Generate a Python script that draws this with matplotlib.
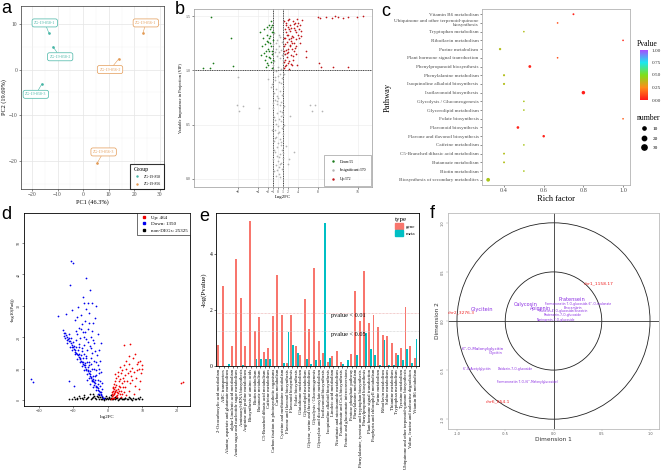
import numpy as np
import matplotlib
matplotlib.use("Agg")
import matplotlib.pyplot as plt
from matplotlib.patches import Circle, Patch
from matplotlib.lines import Line2D
from matplotlib.colors import LinearSegmentedColormap
from matplotlib.cm import ScalarMappable
from matplotlib.ticker import MultipleLocator

plt.rcParams['font.family'] = ['Liberation Serif', 'DejaVu Serif']

# ── panel a: PCA ─────────────────────────────────────────────────────────────
pca_names_858 = ["ZG-19-858-1", "ZG-19-858-2", "ZG-19-858-3"]
pca_x_858 = [-13.4, -11.8, -16.1]
pca_y_858 = [8.0, 5.0, -3.1]
pca_lab_x_858 = [-15.0, -9.0, -18.5]
pca_lab_y_858 = [10.2, 2.8, -5.4]
pca_names_856 = ["ZG-19-856-1", "ZG-19-856-2", "ZG-19-856-3"]
pca_x_856 = [23.4, 14.0, 5.4]
pca_y_856 = [8.0, 2.4, -20.5]
pca_lab_x_856 = [24.5, 10.5, 8.0]
pca_lab_y_856 = [10.2, 0.0, -18.0]

# ── panel b: VIP vs log2FC ───────────────────────────────────────────────────
vip_up = [(1.1,1.02),(1.2,1.08),(1.3,1.15),(1.2,1.22),(1.4,1.30),(1.3,1.38),(1.5,1.44),(1.6,1.05),
          (1.7,1.12),(1.6,1.19),(1.8,1.26),(1.7,1.33),(1.9,1.40),(2.0,1.46),(2.1,1.01),(2.2,1.09),
          (2.0,1.17),(2.3,1.23),(2.2,1.29),(2.4,1.36),(2.3,1.42),(2.5,1.06),(2.6,1.14),(2.7,1.20),
          (2.5,1.27),(2.8,1.32),(2.6,1.39),(2.9,1.45),(3.0,1.10),(3.1,1.18),(3.2,1.25),(3.0,1.31),
          (3.3,1.37),(3.1,1.43),(3.4,1.21),(3.5,1.29),(3.6,1.35),(3.7,1.41),(3.8,1.47),(4.0,1.44),
          (4.2,1.38),(4.1,1.30),(4.3,1.25),(1.4,1.10),(1.9,1.20),(2.7,1.05),(3.5,1.15),(4.4,1.42),
          (1.5,1.35),(2.1,1.38),(2.8,1.25),(1.1,1.30),(1.2,1.45),(3.8,1.05),(5.6,1.12),(5.6,1.18),
          (8.2,1.07),(8.6,1.03),(11.0,1.03),(14.0,1.03),(8.0,1.49),(8.4,1.48),(9.6,1.49),(10.8,1.48),
          (11.4,1.50),(12.0,1.49),(13.0,1.48),(14.0,1.49),(15.8,1.49),(17.0,1.50),(4.6,1.32),(4.8,1.46),
          (1.3,1.24),(1.8,1.16),(2.4,1.22),(2.9,1.13),(3.3,1.44),(3.9,1.33),(1.6,1.42),(2.2,1.47),
          (1.4,1.04),(2.6,1.30),(3.2,1.39),(1.9,1.07),(3.6,1.22),(4.5,1.36),(1.1,1.18),(2.0,1.33)]
vip_down = [(-1.2,1.42),(-1.3,1.35),(-1.1,1.28),(-1.4,1.22),(-1.2,1.15),(-1.5,1.08),(-1.3,1.02),
            (-1.7,1.38),(-1.8,1.30),(-1.6,1.25),(-1.9,1.18),(-1.7,1.11),(-2.0,1.05),(-2.2,1.33),
            (-2.3,1.27),(-2.1,1.20),(-2.4,1.13),(-2.2,1.07),(-2.6,1.24),(-2.8,1.16),(-2.7,1.10),
            (-3.0,1.30),(-3.2,1.22),(-3.4,1.14),(-1.5,1.45),(-1.9,1.42),(-2.5,1.03),(-1.1,1.10),
            (-3.6,1.35),(-2.9,1.38),(-1.4,1.40),(-1.6,1.32),(-2.0,1.26),(-1.8,1.12),(-2.5,1.18),
            (-1.3,1.18),(-1.1,1.35),(-2.3,1.40),(-13.4,1.49),(-15.0,1.02),(-13.6,1.02),(-13.0,1.07),
            (-9.4,1.30),(-9.0,1.04)]
vip_ns = [(-0.9,1.34),(0.4,1.31),(-0.2,1.28),(0.8,1.26),(-1.1,1.24),(0.1,1.22),(0.6,1.19),(-0.6,1.17),
          (1.1,1.15),(-0.3,1.13),(0.3,1.11),(-0.8,1.09),(0.9,1.07),(-1.0,1.05),(0.0,1.03),(0.5,1.01),
          (-0.5,0.99),(1.2,0.97),(-0.1,0.95),(0.7,0.93),(-0.7,0.91),(0.2,0.89),(-1.2,0.87),(1.0,0.85),
          (-0.4,0.83),(0.4,0.81),(-0.9,0.79),(0.8,0.77),(0.0,0.75),(-0.6,0.73),(0.6,0.71),(-0.2,0.69),
          (1.1,0.67),(-1.0,0.65),(0.3,0.63),(-0.3,0.61),(0.9,0.59),(-0.8,0.57),(0.1,0.55),(0.5,0.53),
          (-0.5,0.51),(-0.1,0.49),(0.7,0.47),(-0.7,0.45),(0.2,0.43),(1.0,0.41),(-0.4,0.39),(0.4,0.37),
          (-0.9,0.35),(0.0,0.33),(0.6,0.31),(-0.2,0.29),(0.8,0.27),(-0.6,0.25),(0.3,0.23),(-0.3,0.21),
          (0.9,0.19),(-0.1,0.17),(0.5,0.15),(-0.5,0.13),(0.1,0.11),(0.7,0.09),(-0.8,0.07),(0.2,0.05),
          (-0.4,0.03),(0.4,0.02),(-0.5,1.20),(0.3,0.97),(-0.2,0.76),(0.6,0.58),(-0.7,0.38),(0.1,0.20),
          (1.2,0.50),(-1.2,0.45),(0.9,1.10),(-1.1,0.70),(-8.0,0.94),(-8.2,0.68),(-7.8,0.63),(-7.0,0.67),
          (-3.8,0.65),(6.4,0.68),(7.4,0.68),(6.8,0.63),(8.8,0.63),(2.4,0.58),(3.2,0.25),(2.0,0.14),
          (2.1,0.18),(-2.0,0.92),(1.5,0.30),(-1.5,0.85),(0.2,1.33),(-0.4,1.25),(0.7,1.14),(-0.9,1.00),
          (0.5,0.88),(-0.3,0.72),(0.8,0.62),(-0.6,0.54),(0.0,0.42),(0.6,0.34),(-0.9,0.27),(0.3,0.14),
          (-0.2,0.08),(1.0,0.24),(-1.0,0.18),(0.4,0.68),(-0.6,0.94),(0.1,1.17)]

# ── panel c: KEGG enrichment bubbles ─────────────────────────────────────────
path_names = ["Vitamin B6 metabolism", "Ubiquinone and other terpenoid-quinone\nbiosynthesis",
              "Tryptophan metabolism", "Riboflavin metabolism", "Purine metabolism",
              "Plant hormone signal transduction", "Phenylpropanoid biosynthesis",
              "Phenylalanine metabolism", "Isoquinoline alkaloid biosynthesis",
              "Isoflavonoid biosynthesis", "Glycolysis / Gluconeogenesis", "Glycerolipid metabolism",
              "Folate biosynthesis", "Flavonoid biosynthesis", "Flavone and flavonol biosynthesis",
              "Caffeine metabolism", "C5-Branched dibasic acid metabolism", "Butanoate metabolism",
              "Biotin metabolism", "Biosynthesis of secondary metabolites"]
rich_factor = [0.75, 0.67, 0.50, 1.00, 0.38, 0.67, 0.53, 0.40, 0.40, 0.80,
               0.50, 0.50, 1.00, 0.47, 0.60, 0.50, 0.40, 0.40, 0.50, 0.32]
path_pvalue = [0.02, 0.12, 0.40, 0.03, 0.40, 0.12, 0.02, 0.40, 0.40, 0.01,
               0.42, 0.42, 0.15, 0.02, 0.02, 0.42, 0.40, 0.40, 0.42, 0.42]
path_number = [2, 1, 1, 1, 4, 1, 7, 3, 3, 12, 1, 1, 1, 6, 5, 1, 2, 2, 1, 14]

# ── panel d: transcriptome volcano ───────────────────────────────────────────
deg_down = [(-1.5,0.8),(-2.0,1.5),(-2.3,2.6),(-2.8,3.2),(-3.1,4.0),(-3.5,4.6),(-3.8,5.3),(-4.2,6.1),
            (-4.5,6.4),(-4.9,7.3),(-5.2,7.8),(-5.6,8.6),(-5.9,9.1),(-6.3,9.9),(-6.6,10.4),(-7.0,11.2),
            (-7.3,11.6),(-7.7,12.5),(-8.0,12.9),(-8.4,13.7),(-8.7,14.2),(-9.1,15.0),(-9.4,15.4),
            (-9.8,16.3),(-10.1,16.8),(-10.5,17.5),(-10.8,18.1),(-11.2,18.8),(-11.5,19.4),(-11.9,20.1),
            (-12.2,20.7),(-12.6,21.3),(-13.0,22.3),(-2.6,2.0),(-3.3,3.3),(-4.0,4.8),(-4.7,5.9),
            (-5.4,7.0),(-6.1,8.3),(-6.8,9.5),(-7.5,10.8),(-8.2,12.0),(-8.9,13.2),(-9.6,14.5),
            (-10.3,15.8),(-11.0,17.0),(-11.7,18.3),(-12.4,19.6),(-3.0,5.0),(-3.7,6.4),(-4.4,7.8),
            (-5.1,9.2),(-5.8,10.5),(-6.5,11.8),(-7.2,13.3),(-7.9,14.4),(-8.6,15.9),(-9.3,17.0),
            (-10.0,18.5),(-10.7,19.6),(-11.4,21.0),(-1.8,3.5),(-2.2,6.0),(-2.5,8.5),(-2.9,11.0),
            (-3.2,14.2),(-2.7,16.0),(-3.5,9.5),(-4.1,12.3),(-3.9,18.0),(-4.5,15.1),(-4.8,20.0),
            (-5.0,13.5),(-5.3,17.2),(-5.7,22.5),(-6.0,15.8),(-6.2,19.5),(-6.6,25.0),(-6.9,17.5),
            (-7.2,21.5),(-7.5,24.2),(-7.8,27.0),(-8.1,19.8),(-8.5,23.0),(-8.8,26.5),(-9.2,22.0),
            (-9.6,25.5),(-3.0,21.0),(-4.2,24.5),(-5.5,27.8),(-6.4,29.0),(-7.0,31.0),(-3.6,26.0),
            (-2.4,12.5),(-1.9,9.0),(-1.6,5.5),(-2.1,18.0),(-3.3,30.0),(-4.7,31.0),(-5.8,31.0),
            (-4.0,10.0),(-5.4,11.0),(-6.3,14.0),(-7.6,16.5),(-8.3,17.8),(-6.7,21.8),(-4.4,4.0),
            (-5.2,5.0),(-6.0,6.3),(-3.0,2.0),(-2.0,2.5),(-14.5,26.7),(-10.4,28.7),(-8.7,29.6),
            (-7.2,32.8),(-10.7,44.3),(-10.1,43.5),(-11.0,36.6),(-6.4,38.8),(-5.2,35.0),(-22.4,6.7),
            (-21.7,5.8),(-12.0,27.5),(-11.3,6.0),(-9.8,4.5),
            (-1.2,0.5),(-1.7,1.2),(-2.1,2.0),(-2.5,2.8),(-2.9,3.8),(-3.4,4.3),(-3.9,5.7),(-4.3,6.7),
            (-4.8,7.0),(-5.3,8.2),(-5.7,9.4),(-6.2,9.5),(-6.7,11.0),(-7.1,12.0),(-7.6,12.0),(-8.1,13.5),
            (-8.5,14.8),(-9.0,14.5),(-9.5,16.0),(-9.9,17.2),(-10.4,16.9),(-10.9,18.7),(-11.3,19.8),
            (-11.8,19.2),(-12.3,21.2),(-12.8,20.5),(-3.6,7.5),(-4.6,9.8),(-5.5,12.2),(-6.4,13.5),
            (-7.4,15.5),(-8.3,17.0),(-9.1,19.0),(-2.3,4.5),(-2.8,6.5),(-3.3,8.0),(-4.9,11.5),(-6.0,12.0),
            (-7.0,14.5),(-3.8,15.5),(-4.3,19.0),(-5.0,16.5),(-5.9,18.5),(-6.9,20.0),(-7.9,22.5),
            (-8.8,21.0),(-2.6,10.0),(-3.4,12.0),(-4.6,22.0),(-5.6,24.5)]
deg_up = [(1.2,0.8),(1.5,1.5),(1.8,2.2),(2.0,3.0),(1.4,3.8),(2.3,1.2),(2.6,2.5),(2.9,3.5),(3.2,4.5),
          (1.7,5.0),(2.2,6.0),(3.5,1.8),(3.8,3.0),(4.1,5.5),(4.4,7.0),(2.8,7.5),(3.0,9.0),(4.8,2.5),
          (5.1,4.0),(5.5,6.2),(5.8,8.5),(3.6,10.5),(4.6,11.0),(6.2,3.0),(6.5,5.5),(6.8,7.8),
          (7.1,10.2),(5.2,12.5),(7.5,2.0),(7.8,4.5),(8.1,7.0),(8.4,9.5),(8.7,12.0),(9.0,3.5),
          (9.3,6.0),(9.6,8.5),(9.8,11.0),(6.0,14.0),(4.6,17.5),(6.5,17.8),(7.4,13.5),(8.0,14.8),
          (1.3,2.5),(1.6,4.2),(2.4,4.8),(2.0,8.2),(3.4,6.8),(1.1,1.8),(1.9,0.5),(2.7,0.9),(3.9,1.0),
          (5.3,1.5),(21.7,5.8),(21.2,5.4),
          (1.0,0.3),(1.3,1.2),(1.6,0.7),(1.9,1.8),(2.1,2.6),(2.4,3.3),(2.6,1.5),(3.0,2.2),(3.3,3.0),
          (1.5,2.8),(1.8,3.4),(2.2,4.2),(3.6,4.0),(4.0,2.0),(4.3,4.2),(4.7,6.0),(5.0,8.0),(5.4,10.0),
          (6.0,11.5),(6.4,9.2),(7.0,6.5),(7.6,8.8),(8.3,11.5),(8.9,9.8),(9.4,12.5),(9.9,10.0),
          (3.1,6.0),(2.5,7.0),(3.8,8.5),(4.2,9.5)]
deg_ns = [(-10.5,0.4),(-9.8,0.9),(-9.0,0.3),(-8.3,1.2),(-7.6,0.5),(-7.0,1.6),(-6.4,0.2),(-5.8,1.0),
          (-5.2,1.8),(-4.6,0.6),(-4.0,1.3),(-3.5,0.2),(-3.0,0.9),(-2.5,1.5),(-2.0,0.4),(-1.6,1.1),
          (-1.2,0.1),(-0.8,0.7),(-0.4,1.4),(0.0,0.2),(0.4,0.8),(0.8,1.6),(1.2,0.3),(1.7,0.6),
          (2.2,0.2),(2.7,0.5),(3.2,0.3),(3.8,0.6),(4.3,0.2),(4.9,0.8),(5.5,0.4),(6.1,0.9),(6.7,0.3),
          (7.3,0.7),(7.9,0.2),(8.6,0.5),(9.2,0.9),(-0.2,0.5),(0.6,0.3),(-1.0,0.4),(-6.8,1.1),
          (-4.3,1.8),(-8.8,0.7),(2.0,1.0),(3.5,0.8),(5.0,0.6),(-11.3,0.2),(10.0,0.3),
          (-9.5,0.2),(-8.0,0.5),(-7.2,0.3),(-6.0,0.6),(-5.0,0.3),(-4.2,0.9),(-3.8,0.5),(-3.2,1.2),
          (-2.7,0.3),(-2.2,1.0),(-1.8,0.2),(-1.4,0.6),(-0.6,0.3),(0.2,1.0),(1.0,0.5),(1.5,0.2),
          (2.5,0.8),(3.0,0.1),(4.0,0.4),(4.6,0.3),(5.8,0.2),(6.4,0.6),(7.0,0.1),(8.2,0.4),(8.9,0.2)]

# ── panel e: joint KEGG pathways ─────────────────────────────────────────────
joint_paths = ["2-Oxocarboxylic acid metabolism", "ABC transporters",
               "Alanine, aspartate and glutamate metabolism", "alpha-Linolenic acid metabolism",
               "Amino sugar and nucleotide sugar metabolism", "Aminoacyl-tRNA biosynthesis",
               "Arginine and proline metabolism", "Biosynthesis of amino acids", "Biotin metabolism",
               "Butanoate metabolism", "C5-Branched dibasic acid metabolism", "Caffeine metabolism",
               "Carbon fixation in photosynthetic organisms", "Carbon metabolism",
               "Cysteine and methionine metabolism", "Flavone and flavonol biosynthesis",
               "Flavonoid biosynthesis", "Folate biosynthesis", "Glutathione metabolism",
               "Glycerolipid metabolism", "Glycine, serine and threonine metabolism",
               "Glycolysis / Gluconeogenesis", "Glyoxylate and dicarboxylate metabolism",
               "Isoflavonoid biosynthesis", "Isoquinoline alkaloid biosynthesis",
               "Linoleic acid metabolism", "Nicotinate and nicotinamide metabolism",
               "Pantothenate and CoA biosynthesis", "Pentose and glucuronate interconversions",
               "Pentose phosphate pathway", "Phenylalanine metabolism",
               "Phenylalanine, tyrosine and tryptophan biosynthesis", "Phenylpropanoid biosynthesis",
               "Plant hormone signal transduction", "Porphyrin and chlorophyll metabolism",
               "Purine metabolism", "Riboflavin metabolism", "Sulfur metabolism",
               "Thiamine metabolism", "Tryptophan metabolism", "Tyrosine metabolism",
               "Ubiquinone and other terpenoid-quinone biosynthesis",
               "Valine, leucine and isoleucine degradation", "Vitamin B6 metabolism"]
gene_logp = [0.75, 2.85, 0.00, 0.73, 3.82, 2.43, 0.73, 5.17, 1.26, 1.74, 0.50, 0.65, 1.80, 3.26,
             1.83, 0.12, 1.83, 0.73, 0.38, 2.39, 1.32, 3.50, 0.90, 0.46, 0.15, 0.37, 0.55, 0.15,
             0.00, 0.44, 2.67, 1.60, 3.40, 1.55, 1.83, 1.38, 1.12, 1.07, 0.82, 0.46, 0.64, 2.10,
             0.70, 0.28]
meta_logp = [0.00, 0.00, 0.08, 0.00, 0.00, 0.05, 0.00, 0.00, 0.26, 0.26, 0.26, 0.26, 0.00, 0.00,
             0.12, 1.20, 0.76, 0.46, 0.00, 0.26, 0.08, 0.23, 0.23, 5.10, 0.28, 0.00, 0.00, 0.08,
             0.20, 0.00, 0.38, 0.00, 1.17, 0.60, 0.38, 0.05, 0.94, 0.05, 0.05, 0.38, 0.23, 0.60,
             0.10, 0.98]

# ── panel f: correlation circle ──────────────────────────────────────────────
gene_labels = ["chr1_1158.17", "chr2_3276.3", "chr6_854.1"]
gene_d1 = [0.47, -0.96, -0.58]
gene_d2 = [0.38, 0.09, -0.82]
meta_labels = ["Glycitein", "Calycosin", "Pratensein", "Apigenin",
               "Formononetin 7-O-glucoside-6''-O-malonate", "Pinocembrin",
               "Prunetin-4'-O-glucoside/Sissotrin", "Pratensein-7-O-glucoside",
               "Naringenin-7-O-glucoside", "6''-O-Malonylglycitin", "Glycitin",
               "6''-O-Acetylglycitin", "Daidzein-7-O-glucoside",
               "Formononetin 7-O-(6''-Malonylglucoside)"]
meta_d1 = [-0.74, -0.29, 0.19, -0.14, 0.26, 0.20, 0.10, 0.10, 0.03, -0.73, -0.60, -0.79, -0.40, -0.27]
meta_d2 = [0.12, 0.17, 0.22, 0.13, 0.175, 0.137, 0.10, 0.065, 0.01, -0.29, -0.325, -0.49, -0.49, -0.62]
meta_fs = [3.6, 3.6, 3.6, 3.4, 2.2, 2.2, 2.2, 2.2, 2.2, 3.0, 2.6, 2.2, 2.2, 2.2]

W, H = 666, 476
fig = plt.figure(figsize=(W / 100, H / 100), dpi=100)


def add_ax(x0, y0, x1, y1):
    return fig.add_axes([x0 / W, 1 - y1 / H, (x1 - x0) / W, (y1 - y0) / H])


def style_ticks(ax, size, color='#4d4d4d'):
    ax.tick_params(labelsize=size, length=1.5, width=0.4, pad=1, colors='#333333', labelcolor=color)


def letter(x, y, s):
    fig.text(x / W, 1 - y / H, s, fontsize=13, family='Liberation Sans', va='top', ha='left')


TEAL = '#45B5A5'
ORANGE = '#E39A55'

# ── a ────────────────────────────────────────────────────────────────────────
ax = add_ax(21, 6, 164, 189)
ax.set_xlim(-24.3, 31.6)
ax.set_ylim(-26.1, 13.9)
ax.set_xticks([-20, -10, 0, 10, 20, 30])
ax.set_yticks([-20, -10, 0, 10])
ax.xaxis.set_minor_locator(MultipleLocator(5))
ax.yaxis.set_minor_locator(MultipleLocator(5))
ax.grid(which='major', color='#e5e5e5', lw=0.5)
ax.grid(which='minor', color='#f2f2f2', lw=0.3)
ax.tick_params(which='minor', length=0)
ax.set_axisbelow(True)
style_ticks(ax, 4)
for sp in ax.spines.values():
    sp.set_color('#333333')
    sp.set_linewidth(0.5)
ax.scatter(pca_x_858, pca_y_858, s=0.8, color=TEAL, zorder=3)
ax.scatter(pca_x_856, pca_y_856, s=0.8, color=ORANGE, zorder=3)
for names, xs, ys, lx, ly, col in [(pca_names_858, pca_x_858, pca_y_858, pca_lab_x_858, pca_lab_y_858, TEAL),
                                   (pca_names_856, pca_x_856, pca_y_856, pca_lab_x_856, pca_lab_y_856, ORANGE)]:
    for n, x, y, tx, ty in zip(names, xs, ys, lx, ly):
        ax.annotate(n, xy=(x, y), xytext=(tx, ty), fontsize=2.9, color=col, ha='center', va='center',
                    bbox=dict(boxstyle='round,pad=0.5', fc='white', ec=col, lw=0.5),
                    arrowprops=dict(arrowstyle='-', color=col, lw=0.4, shrinkA=0, shrinkB=0))
ax.set_xlabel('PC1 (46.3%)', fontsize=4.5, labelpad=1)
ax.set_ylabel('PC2 (19.69%)', fontsize=4.5, labelpad=1)
h = [Line2D([], [], marker='.', ls='', color=TEAL, ms=1.5),
     Line2D([], [], marker='.', ls='', color=ORANGE, ms=1.5)]
leg = ax.legend(h, ['ZG-19-858', 'ZG-19-856'], title='Group', loc='lower right', fontsize=2.8,
                title_fontsize=4.2, frameon=True, fancybox=False, borderaxespad=0,
                handletextpad=0.6, labelspacing=0.8, borderpad=0.8)
leg.get_frame().set_edgecolor('black')
leg.get_frame().set_linewidth(0.8)
leg._legend_box.align = 'left'
letter(1, 0, 'a')

# ── b ────────────────────────────────────────────────────────────────────────
ax = add_ax(194, 9, 372, 187)
ax.set_xlim(-16.8, 18.8)
ax.set_ylim(-0.074, 1.565)
ax.set_xticks([-8, -4, -2, -1, 0, 1, 2, 4, 8, 16])
ax.set_yticks([0, 0.5, 1.0, 1.5])
ax.set_yticklabels(['0.0', '0.5', '1.0', '1.5'])
ax.grid(color='#ebebeb', lw=0.4)
ax.set_axisbelow(True)
style_ticks(ax, 2.8)
for sp in ax.spines.values():
    sp.set_color('#999999')
    sp.set_linewidth(0.5)
for pts, col in [(vip_ns, '#b3b3b3'), (vip_down, '#1a7a1a'), (vip_up, '#c0161a')]:
    ax.scatter([p[0] for p in pts], [p[1] for p in pts], s=1.5, color=col, lw=0, zorder=3)
for xv in (-1, 1):
    ax.axvline(xv, color='black', ls=(0, (1.5, 1)), lw=0.5)
ax.axhline(1, color='black', ls=(0, (1.5, 1)), lw=0.5)
ax.set_xlabel('Log2FC', fontsize=3.5, labelpad=0.5)
ax.set_ylabel('Variable Importance in Projection (VIP)', fontsize=3.2, labelpad=2)
h = [Line2D([], [], marker='.', ls='', color='#1a7a1a', ms=1.5),
     Line2D([], [], marker='.', ls='', color='#b3b3b3', ms=1.5),
     Line2D([], [], marker='.', ls='', color='#c0161a', ms=1.5)]
leg = ax.legend(h, ['Down:55', 'Insignificant:370', 'Up:372'], loc='lower right', fontsize=2.8,
                frameon=True, fancybox=False, borderaxespad=0.3, labelspacing=1.2, borderpad=1.2,
                handletextpad=0.8)
leg.get_frame().set_edgecolor('#888888')
leg.get_frame().set_linewidth(0.5)
letter(175, 1, 'b')

# ── c ────────────────────────────────────────────────────────────────────────
pcmap = LinearSegmentedColormap.from_list('pv', ['#FF1A1A', '#FF8C1A', '#7FE01A', '#1AE8F0', '#A64DFF'])
ax = add_ax(482, 9, 630, 185)
ypos = np.arange(len(path_names))[::-1] + 1
ax.scatter(rich_factor, ypos, s=[1 + 0.45 * n for n in path_number], c=path_pvalue, cmap=pcmap,
           vmin=0, vmax=1, lw=0, zorder=3)
ax.set_xlim(0.289, 1.035)
ax.set_ylim(0.4, len(path_names) + 0.6)
ax.set_yticks(ypos)
ax.set_yticklabels(path_names, fontsize=3.7, linespacing=0.8)
ax.set_xticks([0.4, 0.6, 0.8, 1.0])
ax.set_xticklabels(['0.4', '0.6', '0.8', '1.0'])
ax.tick_params(axis='x', labelsize=4.5, length=1.5, width=0.4, pad=1, colors='#333333', labelcolor='#4d4d4d')
ax.tick_params(axis='y', length=1.5, width=0.4, pad=1, colors='#333333', labelcolor='#4d4d4d')
for sp in ax.spines.values():
    sp.set_color('#b3b3b3')
    sp.set_linewidth(0.6)
ax.set_xlabel('Rich factor', fontsize=6, labelpad=1)
ax.set_ylabel('Pathway', fontsize=6, labelpad=2)
cax = add_ax(640, 50, 648, 100)
cb = fig.colorbar(ScalarMappable(cmap=pcmap, norm=plt.Normalize(0, 1)), cax=cax, ticks=[0, 0.25, 0.5, 0.75, 1])
cb.ax.set_yticklabels(['0.00', '0.25', '0.50', '0.75', '1.00'])
cb.ax.tick_params(labelsize=3.8, length=1.5, width=0.4, pad=1, colors='white', labelcolor='#333333')
cb.outline.set_visible(False)
fig.text(637 / W, 1 - 44 / H, 'Pvalue', fontsize=5.5, va='center')
h = [Line2D([], [], marker='o', ls='', color='black', ms=np.sqrt(1 + 0.45 * n)) for n in (10, 20, 30)]
fig.legend(h, ['10', '20', '30'], title='number', loc='upper left',
           bbox_to_anchor=(633 / W, 1 - 110 / H), frameon=False, fontsize=3.8, title_fontsize=5.5,
           labelspacing=0.9, handletextpad=0.6, borderpad=0.2)
letter(381, 3, 'c')

# ── d ────────────────────────────────────────────────────────────────────────
ax = add_ax(24, 213, 190, 406)
ax.set_xlim(-24.3, 23.8)
ax.set_ylim(-1.9, 59.5)
ax.set_xticks([-20, -10, 0, 10, 20])
ax.set_yticks([0, 10, 20, 30, 40, 50])
style_ticks(ax, 3, '#333333')
ax.tick_params(axis='y', labelrotation=90)
for sp in ax.spines.values():
    sp.set_linewidth(0.6)
for pts, col in [(deg_ns, 'black'), (deg_down, '#0000ee'), (deg_up, '#ee0000')]:
    ax.scatter([p[0] for p in pts], [p[1] for p in pts], s=1.6, color=col, lw=0, zorder=3)
ax.set_xlabel('log2FC', fontsize=3.5, labelpad=1)
ax.set_ylabel('-log10(Padj)', fontsize=3.5, labelpad=1)
h = [Line2D([], [], marker='s', ls='', color=c, ms=1.8) for c in ('#ee0000', '#0000ee', 'black')]
leg = ax.legend(h, ['Up: 464', 'Down: 1350', 'non-DEGs: 25325'], loc='upper right', fontsize=3.6,
                frameon=True, fancybox=False, borderaxespad=0, handletextpad=0.4, labelspacing=0.4)
leg.get_frame().set_edgecolor('black')
leg.get_frame().set_linewidth(0.5)
letter(1, 206, 'd')

# ── e ────────────────────────────────────────────────────────────────────────
ax = add_ax(216, 213, 419, 366)
xi = np.arange(len(joint_paths))
bw = 0.42
ax.bar(xi - bw / 2, gene_logp, width=bw, color='#F8766D', lw=0)
ax.bar(xi + bw / 2, meta_logp, width=bw, color='#00BFC4', lw=0)
ax.set_xlim(-0.65, len(joint_paths) - 0.25)
ax.set_ylim(0, 5.46)
ax.set_yticks([0, 2, 4])
ax.set_xticks(xi)
ax.set_xticklabels(joint_paths, rotation=90, fontsize=3.3)
ax.tick_params(axis='x', length=1.2, width=0.4, pad=1)
ax.tick_params(axis='y', labelsize=4, length=1.5, width=0.4, pad=1)
for sp in ax.spines.values():
    sp.set_linewidth(0.6)
ax.axhline(1.9, color='#e8a0a0', ls=(0, (1, 1)), lw=0.5)
ax.axhline(1.25, color='#c8c8c8', ls=(0, (1, 1)), lw=0.5)
ax.text(24.6, 1.79, 'pvalue < 0.01', fontsize=4.5, va='center', ha='left')
ax.text(24.6, 1.11, 'pvalue < 0.05', fontsize=4.5, va='center', ha='left')
ax.set_ylabel('-log(Pvalue)', fontsize=5, labelpad=2)
h = [Patch(color='#F8766D'), Patch(color='#00BFC4')]
leg = ax.legend(h, ['gene', 'meta'], title='type', loc='upper right', fontsize=3.5, title_fontsize=5,
                frameon=False, handlelength=1.6, handleheight=1.6, handletextpad=0.6,
                borderaxespad=0.4, labelspacing=0.2)
leg._legend_box.align = 'left'
letter(199, 208, 'e')

# ── f ────────────────────────────────────────────────────────────────────────
ax = add_ax(448, 213, 659, 429)
ax.set_xlim(-1.093, 1.093)
ax.set_ylim(-1.10, 1.10)
for r in (1.0, 0.5):
    ax.add_patch(Circle((0, 0), r, fill=False, ec='#222222', lw=0.6))
ax.axhline(0, color='#333333', lw=0.6)
ax.axvline(0, color='#333333', lw=0.6)
for t, x, y in zip(gene_labels, gene_d1, gene_d2):
    ax.text(x, y, t, color='#ee2222', fontsize=3.2, ha='center', va='center', family='DejaVu Sans')
for t, x, y, fs in zip(meta_labels, meta_d1, meta_d2, meta_fs):
    ax.text(x, y, t, color='#8a2be2', fontsize=fs, ha='center', va='center', family='DejaVu Sans')
ax.set_xticks([-1, -0.5, 0, 0.5, 1])
ax.set_yticks([-1, -0.5, 0, 0.5, 1])
ax.set_xticklabels(['-1.0', '-0.5', '0.0', '0.5', '1.0'], family='DejaVu Sans')
ax.set_yticklabels(['-1.0', '-0.5', '0.0', '0.5', '1.0'], family='DejaVu Sans', rotation=90, va='center')
ax.tick_params(labelsize=2.5, length=1.2, width=0.3, pad=1, colors='#999999', labelcolor='#555555')
for sp in ax.spines.values():
    sp.set_color('#bbbbbb')
    sp.set_linewidth(0.6)
ax.set_xlabel('Dimension 1', fontsize=4.2, family='DejaVu Sans', labelpad=1, color='#333333')
ax.set_ylabel('Dimension 2', fontsize=4.2, family='DejaVu Sans', labelpad=1, color='#333333')
letter(430, 205, 'f')

fig.savefig('out.png', dpi=100)
